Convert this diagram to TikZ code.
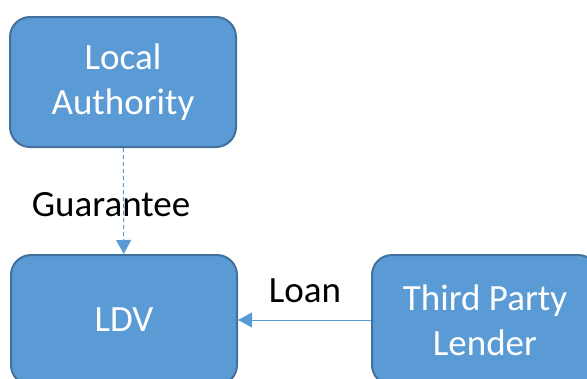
\documentclass[tikz,border=0pt]{standalone}
\usepackage{fontspec}
\setmainfont{Carlito}
\usetikzlibrary{arrows.meta}
\definecolor{boxfill}{HTML}{5B9BD5}
\definecolor{boxline}{HTML}{41719C}
\begin{document}
\begin{tikzpicture}[x=1pt,y=-1pt]
\tikzstyle{party}=[draw=boxline, fill=boxfill, line width=2pt, rounded corners=20pt, minimum width=226pt, minimum height=130pt, align=center, text=white, font=\fontsize{37}{45}\selectfont]
\tikzstyle{flow}=[draw=boxfill, line width=1pt, -{Triangle[length=14pt,width=15pt]}]
\tikzstyle{lbl}=[inner sep=0pt, font=\fontsize{37}{45}\selectfont]
\clip (0,0) rectangle (587,378);
\useasboundingbox (0,0) rectangle (587,378);
\node [party] (la) at (123,82) {Local\\Authority};
\node [party] (ldv) at (124,320) {LDV};
\node [party] (tpl) at (485,320) {Third Party\\Lender};
\draw [flow, dash pattern=on 4pt off 3pt] (la) -- (ldv);
\draw [flow] (tpl) -- (ldv);
\node [lbl] (guar) at (111,205) {Guarantee};
\node [lbl] (loan) at (305,291) {Loan};
\end{tikzpicture}
\end{document}
